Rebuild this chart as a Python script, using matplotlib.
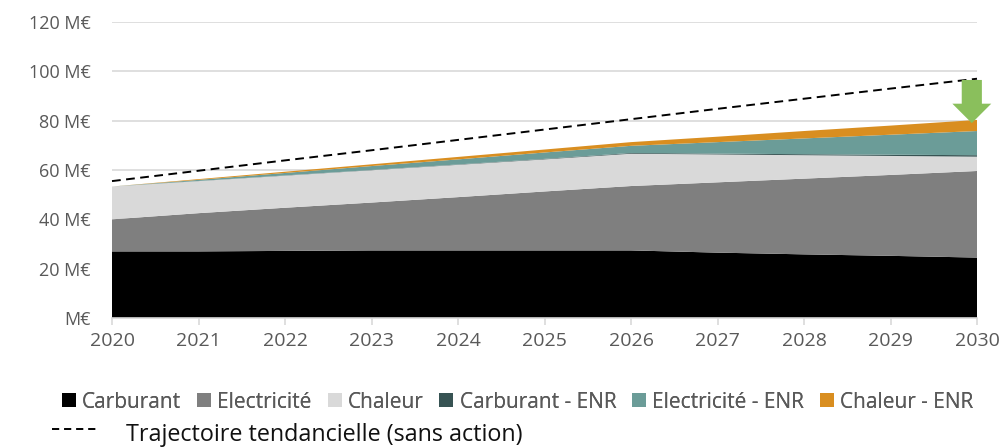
import matplotlib
matplotlib.use('Agg')
import matplotlib.pyplot as plt
from matplotlib.legend_handler import HandlerLine2D
from matplotlib.lines import Line2D
from matplotlib.patches import Patch

plt.rcParams['font.family'] = ['Open Sans', 'DejaVu Sans']

years = [2020, 2021, 2022, 2023, 2024, 2025, 2026, 2027, 2028, 2029, 2030]
carburant = [27, 27, 27.2, 27.4, 27.4, 27.4, 27.4, 26.5, 25.8, 25.2, 24.5]
electricite = [13, 15.5, 17.5, 19.4, 21.6, 23.9, 26.1, 28.5, 30.7, 32.8, 35.1]
chaleur = [13.3, 13, 13, 13.1, 13.1, 13, 13.1, 11.3, 9.5, 7.7, 5.8]
carburant_enr = [0, 0.05, 0.1, 0.1, 0.15, 0.2, 0.3, 0.35, 0.4, 0.5, 0.6]
electricite_enr = [0, 0.45, 1, 1.6, 2.05, 2.6, 2.9, 4.65, 6.4, 8.1, 9.8]
chaleur_enr = [0, 0.3, 0.5, 0.7, 1, 1.2, 1.5, 2.2, 3, 3.7, 4.5]
tendance = [55.5, 59.7, 63.9, 68, 72.2, 76.4, 80.6, 84.8, 88.9, 93, 97]

labels = ['Carburant', 'Electricité', 'Chaleur', 'Carburant - ENR', 'Electricité - ENR', 'Chaleur - ENR']
colors = ['#000000', '#7f7f7f', '#d9d9d9', '#375353', '#6b9c98', '#d98e20']
yticks = [0, 20, 40, 60, 80, 100, 120]
ytick_labels = ['M€', '20 M€', '40 M€', '60 M€', '80 M€', '100 M€', '120 M€']


def raise_line(legline, orig):
	# dashes sit a bit above the text line
	legline.update_from(orig)
	legline.set_ydata(legline.get_ydata() + 3)


W, H = 1004, 447
fig = plt.figure(figsize=(W / 100, H / 100), dpi=100)
ax = fig.add_axes([112 / W, 1 - 318 / H, (977 - 112) / W, (318 - 22) / H])

ax.stackplot(years, carburant, electricite, chaleur, carburant_enr, electricite_enr, chaleur_enr,
             colors=colors, labels=labels, zorder=2)
ax.plot(years, tendance, color='black', lw=1.4, dashes=(4.5, 2.8), zorder=3, clip_on=False)

ax.set_xlim(2020, 2030)
ax.set_ylim(0, 120)
ax.set_xticks(years)
ax.set_yticks(yticks)
ax.set_yticklabels(ytick_labels)
ax.grid(axis='y', color='#d9d9d9', lw=1.2, zorder=0)
ax.set_axisbelow(True)
for side in ['top', 'right', 'left']:
	ax.spines[side].set_visible(False)
ax.spines['bottom'].set_color('#d9d9d9')
ax.spines['bottom'].set_linewidth(1.2)
ax.tick_params(axis='y', length=0, labelsize=13, labelcolor='#595959', pad=15.5)
ax.tick_params(axis='x', length=5, width=1.2, color='#d9d9d9', labelsize=14, labelcolor='#595959', pad=5)

# green arrow from the trend line down to the stacked total
ax.annotate('', xy=(2029.94, 79), xytext=(2029.94, 96.5), annotation_clip=False, zorder=4,
            arrowprops=dict(width=14.5, headwidth=28, headlength=14, shrink=0,
                            facecolor='#8abf5c', edgecolor='none'))

handles = [Patch(facecolor=c, label=l) for c, l in zip(colors, labels)]
leg1 = fig.legend(handles=handles, ncol=6, loc='center left', bbox_to_anchor=(62 / W, 1 - 402 / H),
                  frameon=False, fontsize=15, labelcolor='#595959', handlelength=0.67, handleheight=0.67,
                  handletextpad=0.3, columnspacing=0.76, borderaxespad=0, borderpad=0)

line_handle = Line2D([0], [0], color='black', lw=1.4, dashes=(3.7, 2.5))
leg2 = fig.legend(handles=[line_handle], labels=['Trajectoire tendancielle (sans action)'], loc='center left',
                  bbox_to_anchor=(52 / W, 1 - 435 / H), frameon=False, fontsize=16.8, labelcolor='#111111',
                  handlelength=2.0, handletextpad=1.15, borderaxespad=0, borderpad=0,
                  handler_map={line_handle: HandlerLine2D(update_func=raise_line)})
fig.add_artist(leg1)

fig.savefig('out.png', dpi=100)
